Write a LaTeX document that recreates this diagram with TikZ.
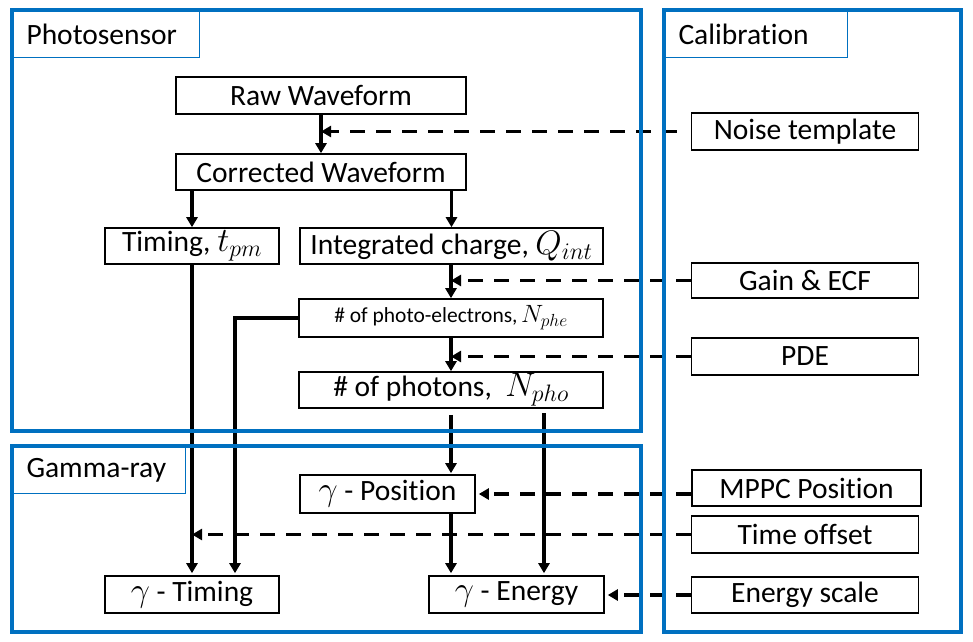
\RequirePackage{fix-cm}
\documentclass[tikz,border=0pt]{standalone}
\usepackage{fontspec}
\setmainfont{Carlito}[Ligatures=NoCommon]
\usetikzlibrary{arrows.meta,calc}
\definecolor{panelblue}{HTML}{0070C0}
\newcommand{\mathbig}[1]{{\fontsize{34}{36}\selectfont$#1$}}
\newcommand{\mathmid}[1]{{\fontsize{25}{27}\selectfont$#1$}}
\begin{document}
\begin{tikzpicture}[x=1pt,y=-1pt,
  box/.style={draw=black,line width=1.6pt,inner sep=0pt,font=\fontsize{29.5}{33}\selectfont},
  smallbox/.style={box,font=\fontsize{21.5}{24}\selectfont},
  tag/.style={draw=panelblue,line width=1pt,anchor=north west,inner xsep=14pt,inner ysep=0pt,align=left,font=\fontsize{29.5}{33}\selectfont},
  panel/.style={draw=panelblue,line width=3.5pt},
  flow/.style={line width=3.4pt,-{Triangle[length=10pt,width=11pt]}},
  dflow/.style={flow,dash pattern=on 15pt off 11pt},
  plain/.style={line width=3.4pt}
]
\useasboundingbox (0,0) rectangle (973,641);

% panel labels
\node[tag,minimum width=187pt,minimum height=47pt,text width=159pt] (lphoto) at (12,10) {Photosensor};
\node[tag,minimum width=183pt,minimum height=47pt,text width=155pt] (lcalib) at (664,10) {Calibration};
\node[tag,minimum width=173pt,minimum height=46pt,text width=145pt] (lgamma) at (12,447) {Gamma-ray};

% photosensor nodes
\node[box,minimum width=290pt,minimum height=37pt] (raw) at (321,95.5) {Raw Waveform};
\node[box,minimum width=290pt,minimum height=36pt] (corr) at (321,172) {Corrected Waveform};
\node[box,minimum width=174pt,minimum height=36pt] (timing) at (192,246) {Timing, \mathbig{t_{pm}}};
\node[box,minimum width=303pt,minimum height=36pt] (integ) at (451.5,246) {Integrated charge, \mathbig{Q_{int}}};
\node[smallbox,minimum width=304pt,minimum height=38pt] (phe) at (451,318) {\# of photo-electrons,\,\mathmid{N_{phe}}};
\node[box,minimum width=304pt,minimum height=36pt] (pho) at (451,390) {\# of photons,\ \ \mathbig{N_{pho}}};

% gamma-ray nodes
\node[box,minimum width=175pt,minimum height=38pt] (pos) at (387.5,494) {\mathbig{\gamma} - Position};
\node[box,minimum width=174pt,minimum height=37pt] (gtim) at (192,594.5) {\mathbig{\gamma} - Timing};
\node[box,minimum width=175pt,minimum height=37pt] (gene) at (516.5,594.5) {\mathbig{\gamma} - Energy};

% calibration nodes
\node[box,minimum width=227pt,minimum height=37pt] (noise) at (805,131.5) {Noise template};
\node[box,minimum width=227pt,minimum height=35pt] (gain) at (805,280.5) {Gain \& ECF};
\node[box,minimum width=227pt,minimum height=37pt] (pde) at (805,356.5) {PDE};
\node[box,minimum width=229pt,minimum height=36pt] (mppc) at (806.5,488) {MPPC Position};
\node[box,minimum width=227pt,minimum height=37pt] (toff) at (805,534.5) {Time offset};
\node[box,minimum width=227pt,minimum height=36pt] (escale) at (805,595) {Energy scale};

% helper coordinates
\coordinate (pheturn) at (235,318);
\coordinate (phoright) at (544,408);

% solid flows
\draw[flow] (raw.south) -- (corr.north);
\draw[flow] (corr.south -| timing.north) -- (timing.north);
\draw[flow] (integ.north |- corr.south) -- (integ.north);
\draw[flow] (phe.north |- integ.south) -- (phe.north);
\draw[flow] (phe.south) -- (pho.north);
\draw[flow,shorten >=2pt] (timing.south) -- (gtim.north);
\draw[plain] (phe.west) -- ([xshift=-1.7pt]pheturn);
\draw[flow,shorten >=2pt] (pheturn) -- (pheturn |- gtim.north);
\draw[flow,shorten <=6pt,shorten >=1pt] (pho.south) -- (pho.south |- pos.north);
\draw[flow,shorten <=5pt,shorten >=2pt] (phoright) -- (phoright |- gene.north);
\draw[flow,shorten >=2pt] (pho.south |- pos.south) -- (pho.south |- gene.north);

% dashed calibration flows
\draw[dflow,shorten <=14pt] (noise.west) -- (noise.west -| raw.south);
\draw[dflow] (gain.west) -- (gain.west -| phe.north);
\draw[dflow] (pde.west) -- (pde.west -| pho.north);
\draw[dflow,shorten >=3pt] (mppc.west |- pos.east) -- (pos.east);
\draw[dflow] (toff.west) -- (toff.west -| timing.south);
\draw[dflow,shorten >=3pt] (escale.west) -- (gene.east |- escale.west);

% panels
\draw[panel] (12,10) rectangle (641,431);
\draw[panel] (12,446) rectangle (641,632);
\draw[panel] (664,10) rectangle (961,632);
\end{tikzpicture}
\end{document}
